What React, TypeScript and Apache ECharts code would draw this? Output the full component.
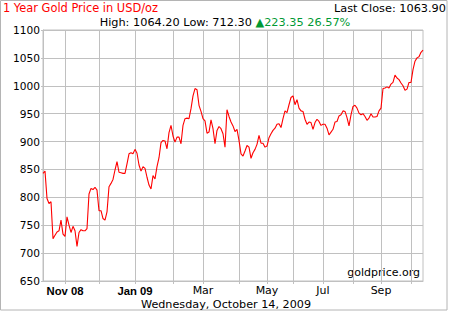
import React, { useEffect, useRef } from 'react';
import * as echarts from 'echarts';

// Month segments shown on the x axis (one category per sample)
const monthLabels = ['Oct 08', 'Nov 08', 'Dec 08', 'Jan 09', 'Feb 09', 'Mar 09', 'Apr 09', 'May 09', 'Jun 09', 'Jul 09', 'Aug 09', 'Sep 09', 'Oct 09'];

// Gold price samples (USD/oz), grouped by month
const oct08 = [843, 847, 798, 789, 792, 726, 732, 738, 740, 759, 734];
const nov08 = [730, 765, 750, 737, 748, 740, 712, 737, 742, 740, 740, 744, 806, 816, 814, 818, 813];
const dec08 = [776, 776, 762, 759, 774, 819, 825, 832, 849, 864, 845, 844, 843, 843, 860, 878, 880, 878];
const jan09 = [886, 879, 858, 847, 855, 852, 836, 822, 815, 839, 833, 855, 871, 898, 902, 901, 887, 916, 929];
const feb09 = [910, 899, 908, 908, 896, 929, 941, 942, 941, 959, 982, 995, 993, 965, 954];
const mar09 = [941, 937, 915, 917, 939, 923, 896, 920, 927, 923, 914, 890, 957, 945, 935, 928, 918, 922];
const apr09 = [902, 878, 874, 883, 893, 890, 870, 880, 886, 895, 911, 897, 897, 890];
const may09 = [892, 907, 914, 920, 924, 931, 932, 925, 941, 955, 952, 966, 979];
const jun09 = [982, 966, 975, 960, 955, 954, 940, 931, 935, 934, 922, 934, 940, 936, 929];
const jul09 = [931, 931, 924, 912, 917, 922, 935, 936, 946, 948, 955, 954, 943, 928, 948];
const aug09 = [963, 965, 960, 951, 948, 950, 945, 938, 942, 950, 944, 944, 945, 955];
const sep09 = [960, 995, 996, 998, 996, 1003, 1006, 1019, 1014, 1011, 1005, 1000, 992, 994, 1006];
const oct09 = [1006, 1029, 1044, 1050, 1052, 1060, 1064];
const monthlyPrices = [oct08, nov08, dec08, jan09, feb09, mar09, apr09, may09, jun09, jul09, aug09, sep09, oct09];

// Tick labels on the x axis
const labeledMonths = ['Nov 08', 'Jan 09', 'Mar 09', 'May 09', 'Jul 09', 'Sep 09'];
const labelTexts = ['Nov 08', 'Jan 09', 'Mar', 'May', 'Jul', 'Sep'];
const boldLabels = ['Nov 08', 'Jan 09'];

// Y axis
const yMin = 650;
const yMax = 1100;
const yStep = 50;

// Header texts
const titleText = '1 Year Gold Price in USD/oz';
const lastCloseText = 'Last Close: 1063.90';
const highLowText = 'High: 1064.20 Low: 712.30 ';
const changeText = '\u25B2223.35 26.57%';
const dateText = 'Wednesday, October 14, 2009';
const sourceText = 'goldprice.org';

const categories: string[] = [];
const prices: number[] = [];
const monthStart = new Set<number>();
monthlyPrices.forEach((arr, m) => {
  arr.forEach((v, k) => {
    if (k === 0) monthStart.add(categories.length);
    categories.push(monthLabels[m] + '|' + (k + 1));
    prices.push(v);
  });
});

const monthOf = (val: string) => String(val).split('|')[0];

const GRID = '#c0c0c0';

export default function App() {
  const ref = useRef<HTMLDivElement>(null);
  useEffect(() => {
    if (!ref.current) return;
    const chart = echarts.init(ref.current, undefined, { renderer: 'svg' });
    const labelInterval = (idx: number, val: string) =>
      monthStart.has(idx) && labeledMonths.includes(monthOf(val));
    const splitInterval = (idx: number) => monthStart.has(idx) && idx !== 0;
    chart.setOption({
      animation: false,
      backgroundColor: '#ffffff',
      grid: { left: 43, top: 30, width: 380, height: 251, show: true, borderColor: GRID, borderWidth: 1 },
      xAxis: {
        type: 'category',
        data: categories,
        boundaryGap: false,
        axisLine: { show: true, lineStyle: { color: GRID, width: 1 } },
        axisTick: { show: true, interval: splitInterval, length: 3, lineStyle: { color: GRID } },
        axisLabel: {
          interval: labelInterval,
          margin: 4,
          color: '#000',
          fontFamily: 'DejaVu Sans',
          fontSize: 11,
          formatter: (val: string) => {
            const m = monthOf(val);
            const i = labeledMonths.indexOf(m);
            if (i < 0) return '';
            const t = labelTexts[i];
            return boldLabels.includes(m) ? '{b|' + t + '}' : t;
          },
          rich: {
            b: { fontFamily: 'Liberation Sans', fontWeight: 'bold', fontSize: 11.3, color: '#000' },
          },
        },
        splitLine: { show: true, interval: splitInterval, lineStyle: { color: GRID, width: 1 } },
      },
      yAxis: {
        type: 'value',
        min: yMin,
        max: yMax,
        interval: yStep,
        axisLine: { show: true, lineStyle: { color: GRID, width: 1 } },
        axisTick: { show: true, length: 2, lineStyle: { color: GRID } },
        axisLabel: {
          margin: 3,
          color: '#000',
          fontFamily: 'DejaVu Sans',
          fontSize: 10.6,
          formatter: (v: number) => String(v),
        },
        splitLine: { show: true, lineStyle: { color: GRID, width: 1 } },
      },
      series: [
        {
          type: 'line',
          data: prices,
          symbol: 'none',
          lineStyle: { color: '#ff0000', width: 1.1 },
          silent: true,
        },
      ],
      graphic: [
        {
          type: 'rect',
          shape: { x: 0.5, y: 0.5, width: 446.5, height: 309.5 },
          style: { fill: 'none', stroke: '#b4b4b4', lineWidth: 1 },
          silent: true,
        },
        {
          type: 'text',
          x: 3,
          y: 8,
          style: { text: titleText, fill: '#ff0000', fontFamily: 'DejaVu Sans', fontSize: 11.4, align: 'left', verticalAlign: 'middle' },
        },
        {
          type: 'text',
          x: 446,
          y: 8,
          style: { text: lastCloseText, fill: '#000', fontFamily: 'DejaVu Sans', fontSize: 11.3, align: 'right', verticalAlign: 'middle' },
        },
        {
          type: 'text',
          x: 225,
          y: 22.5,
          style: {
            text: '{k|' + highLowText + '}{g|' + changeText + '}',
            fontFamily: 'DejaVu Sans',
            fontSize: 11.3,
            align: 'center',
            verticalAlign: 'middle',
            rich: {
              k: { fill: '#000', fontFamily: 'DejaVu Sans', fontSize: 11.3 },
              g: { fill: '#009933', fontFamily: 'DejaVu Sans', fontSize: 11.3 },
            },
          },
        },
        {
          type: 'text',
          x: 226,
          y: 304,
          style: { text: dateText, fill: '#000', fontFamily: 'DejaVu Sans', fontSize: 11.2, align: 'center', verticalAlign: 'middle' },
        },
        {
          type: 'text',
          x: 420,
          y: 272,
          style: { text: sourceText, fill: '#000', fontFamily: 'DejaVu Sans', fontSize: 11, align: 'right', verticalAlign: 'middle' },
        },
      ],
    });
    return () => chart.dispose();
  }, []);
  return <div ref={ref} style={{ position: 'absolute', left: 0, top: 0, width: 450, height: 311 }} />;
}
